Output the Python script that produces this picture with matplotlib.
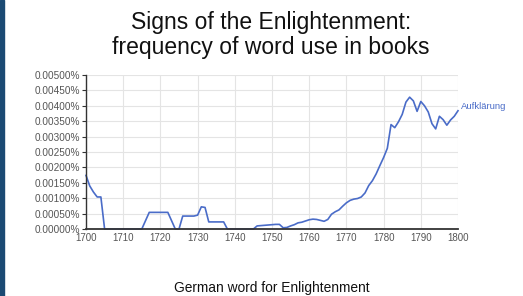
import matplotlib.pyplot as plt
import numpy as np
from matplotlib.patches import Rectangle
from matplotlib.ticker import FuncFormatter

plt.rcParams['font.family'] = ['Liberation Sans', 'DejaVu Sans']

# yearly frequency of "Aufklärung" in percent
years = list(range(1700, 1801))
freq = [
    0.00174, 0.00140, 0.00120, 0.00104, 0.00104, 0.0, 0.0, 0.0, 0.0, 0.0,      # 1700-1709
    0.0, 0.0, 0.0, 0.0, 0.0, 0.0, 0.00027, 0.00054, 0.00054, 0.00054,          # 1710-1719
    0.00054, 0.00054, 0.00054, 0.00027, 0.0, 0.0, 0.00042, 0.00042, 0.00042, 0.00042,  # 1720-1729
    0.00045, 0.00072, 0.00070, 0.00023, 0.00023, 0.00023, 0.00023, 0.00023, 0.0, 0.0,  # 1730-1739
    0.0, 0.0, 0.0, 0.0, 0.0, 0.0, 0.00010, 0.00011, 0.00012, 0.00013,          # 1740-1749
    0.00014, 0.00015, 0.00015, 0.00004, 0.00005, 0.00010, 0.00014, 0.00020, 0.00022, 0.00026,  # 1750-1759
    0.00030, 0.00032, 0.00031, 0.00028, 0.00025, 0.00031, 0.00048, 0.00056, 0.00062, 0.00074,  # 1760-1769
    0.00085, 0.00093, 0.00097, 0.00099, 0.00104, 0.00117, 0.00141, 0.00157, 0.00179, 0.00206,  # 1770-1779
    0.00232, 0.00262, 0.00339, 0.00329, 0.00348, 0.00372, 0.00412, 0.00428, 0.00416, 0.00382,  # 1780-1789
    0.00414, 0.00400, 0.00380, 0.00342, 0.00325, 0.00366, 0.00355, 0.00337, 0.00354, 0.00366,  # 1790-1799
    0.00384,                                                                    # 1800
]
word = 'Aufklärung'
title = 'Signs of the Enlightenment:\nfrequency of word use in books'
caption = 'German word for Enlightenment'
xticks = list(range(1700, 1801, 10))
yticks = [i * 0.0005 for i in range(11)]

line_col = '#4a6cc8'

fig = plt.figure(figsize=(5.23, 2.96), dpi=100)
fig.patches.append(Rectangle((0, 0), 4 / 523, 1, transform=fig.transFigure,
                             color='#1b4a73', zorder=0))

ax = fig.add_axes([86 / 523, 1 - 229 / 296, 372 / 523, 154 / 296])
ax.plot(years, freq, color=line_col, lw=1.2, clip_on=False)
ax.set_xlim(1700, 1800)
ax.set_ylim(0, 0.005)
ax.set_xticks(xticks)
ax.set_yticks(yticks)
ax.yaxis.set_major_formatter(FuncFormatter(lambda v, p: f'{v:.5f}%'))
ax.grid(True, color='#e4e4e4', lw=0.8)
ax.set_axisbelow(True)
for s in ['top', 'right']:
    ax.spines[s].set_visible(False)
ax.spines['left'].set_color('#333333')
ax.spines['left'].set_linewidth(1.0)
ax.spines['bottom'].set_color('#333333')
ax.spines['bottom'].set_linewidth(1.3)
ax.tick_params(axis='y', labelsize=7.2, colors='#555555', length=3, width=0.8,
               direction='out', pad=1)
ax.tick_params(axis='x', labelsize=7.0, colors='#555555', length=0, pad=3)
ax.tick_params(axis='y', color='#333333')

ax.annotate(word, xy=(years[-1], freq[-1]), xytext=(2, 3),
            textcoords='offset points', color=line_col, fontsize=6.8,
            va='center', ha='left')

fig.text(0.518, 0.883, title, ha='center', va='center', fontsize=16.5,
         color='#111111', linespacing=1.1)
fig.text(0.52, 0.027, caption, ha='center', va='center', fontsize=9.9,
         color='#111111')

fig.savefig('out.png', dpi=100)
